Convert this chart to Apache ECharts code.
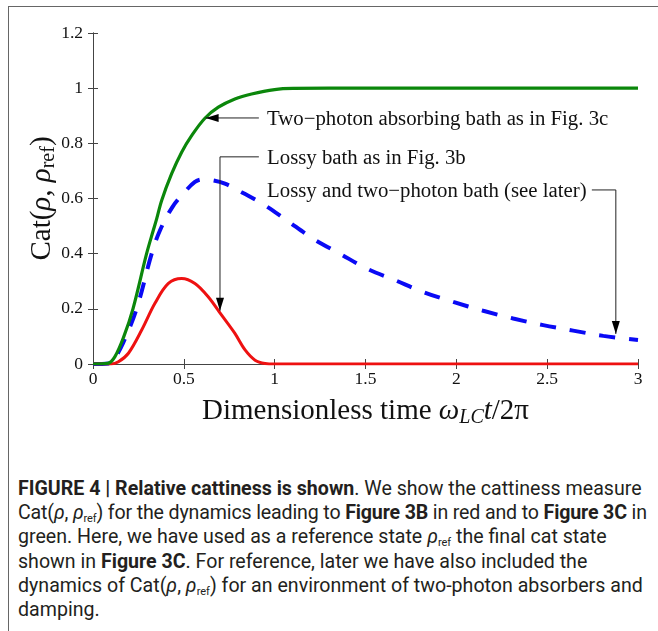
<!DOCTYPE html>
<html>
<head>
<meta charset="utf-8">
<script src="https://cdn.jsdelivr.net/npm/echarts@6/dist/echarts.min.js"></script>
<style>
  html, body { margin: 0; padding: 0; background: #fff; }
  #wrap { position: relative; width: 658px; height: 631px; overflow: hidden; }
  #frame { position: absolute; left: 8px; top: 6px; width: 700px; height: 700px;
           border-left: 1.5px solid #666; border-top: 1.5px solid #666; }
  #chart { position: absolute; left: 0; top: 0; width: 658px; height: 460px; }
  #caption { position: absolute; left: 18px; top: 477px; width: 640px;
             font-family: Roboto, "Liberation Sans", sans-serif; font-size: 19.6px;
             line-height: 24.2px; color: #231f20; white-space: nowrap; }
  #caption div { height: 24.2px; }
  #caption b { font-weight: bold; }
  #caption .s { font-size: 11px; vertical-align: -3px; line-height: 0; }
  #caption i { font-style: italic; }
  #caption .tight { letter-spacing: -0.15px; }
</style>
</head>
<body>
<div id="wrap">
  <div id="frame"></div>
  <div id="chart"></div>
  <div id="caption">
    <div><b>FIGURE 4 | Relative cattiness is shown</b>. We show the cattiness measure</div>
    <div class="tight">Cat(<i>ρ</i>, <i>ρ</i><span class="s">ref</span>) for the dynamics leading to <b>Figure 3B</b> in red and to <b>Figure 3C</b> in</div>
    <div>green. Here, we have used as a reference state <i>ρ</i><span class="s">ref</span> the final cat state</div>
    <div>shown in <b>Figure 3C</b>. For reference, later we have also included the</div>
    <div>dynamics of Cat(<i>ρ</i>, <i>ρ</i><span class="s">ref</span>) for an environment of two-photon absorbers and</div>
    <div>damping.</div>
  </div>
</div>
<script>
// Two-photon absorbing bath (green)
const tGreen = [0, 0.08, 0.12, 0.17, 0.22, 0.295, 0.332, 0.35, 0.378, 0.433, 0.488, 0.543, 0.616, 0.69, 0.781, 0.873, 1.0, 1.1, 1.5, 2.0, 2.5, 3.0];
const cGreen = [0, 0.002, 0.026, 0.1, 0.2, 0.4, 0.485, 0.525, 0.593, 0.69, 0.768, 0.828, 0.891, 0.931, 0.961, 0.979, 0.995, 0.999, 1, 1, 1, 1];

// Lossy bath (red)
const tRed = [0, 0.1, 0.14, 0.195, 0.268, 0.341, 0.415, 0.488, 0.561, 0.635, 0.708, 0.781, 0.837, 0.892, 0.947, 1.0, 3.0];
const cRed = [0, 0, 0.008, 0.039, 0.123, 0.22, 0.292, 0.31, 0.292, 0.243, 0.177, 0.111, 0.051, 0.014, 0.002, 0, 0];

// Lossy and two-photon bath (blue, dashed)
const tBlue = [0, 0.1, 0.12, 0.165, 0.24, 0.323, 0.369, 0.437, 0.5, 0.561, 0.6, 0.65, 0.726, 0.818, 0.947, 1.066, 1.212, 1.359, 1.506, 1.662, 1.818, 1.983, 2.148, 2.313, 2.478, 2.643, 2.809, 3.0];
const cBlue = [0, 0.003, 0.02, 0.075, 0.2, 0.4, 0.485, 0.569, 0.62, 0.66, 0.669, 0.667, 0.654, 0.623, 0.575, 0.521, 0.454, 0.4, 0.346, 0.304, 0.261, 0.225, 0.193, 0.165, 0.141, 0.121, 0.102, 0.087];

// Axis ranges
const xRange = [0, 3], xStep = 0.5;
const yRange = [0, 1.2], yStep = 0.2;

// Annotation texts and their anchors (data coordinates)
const noteTexts = ['Two\u2212photon absorbing bath as in Fig. 3c', 'Lossy bath as in Fig. 3b', 'Lossy and two\u2212photon bath (see later)'];
const noteAt = [[0.958, 0.886], [0.958, 0.745], [0.958, 0.626]];
// Arrow paths: first point is the tail, last is the arrow tip
const arrowPaths = [
  [[0.913, 0.892], [0.62, 0.892]],
  [[0.913, 0.751], [0.699, 0.751], [0.699, 0.193]],
  [[2.746, 0.631], [2.878, 0.631], [2.878, 0.109]]
];

const zip = (a, b) => a.map((v, i) => [v, b[i]]);
const serif = '"Liberation Serif", "DejaVu Serif", serif';
const axisCol = '#444';

const chart = echarts.init(document.getElementById('chart'), null, { renderer: 'canvas' });

const baseX = {
  type: 'value', min: xRange[0], max: xRange[1], interval: xStep,
  axisLine: { show: true, lineStyle: { color: axisCol, width: 1 } },
  axisTick: { show: true, inside: true, length: 5, lineStyle: { color: axisCol } },
  splitLine: { show: false }
};
const baseY = {
  type: 'value', min: yRange[0], max: yRange[1], interval: yStep,
  axisLine: { show: true, lineStyle: { color: axisCol, width: 1 } },
  axisTick: { show: true, inside: true, length: 5, lineStyle: { color: axisCol } },
  splitLine: { show: false }
};

chart.setOption({
  animation: false,
  grid: { left: 93, right: 20, top: 33, bottom: 96, containLabel: false },
  xAxis: [
    Object.assign({}, baseX, {
      position: 'bottom',
      axisLabel: { color: '#111', fontFamily: serif, fontSize: 17.5, margin: 6 },
      name: '{n|Dimensionless time }{i|ω}{s|LC}{i|t}{n|/2π}',
      nameLocation: 'middle', nameGap: 30,
      nameTextStyle: {
        rich: {
          n: { fontFamily: serif, fontSize: 29, color: '#111' },
          i: { fontFamily: serif, fontSize: 29, fontStyle: 'italic', color: '#111' },
          s: { fontFamily: serif, fontSize: 20, fontStyle: 'italic', color: '#111', padding: [14, 0, 0, 0] }
        }
      }
    }),
    Object.assign({}, baseX, { position: 'top', axisLabel: { show: false } })
  ],
  yAxis: [
    Object.assign({}, baseY, {
      position: 'left',
      axisLabel: { color: '#111', fontFamily: serif, fontSize: 17.5, margin: 10 },
      name: '{n|Cat(}{i|ρ}{n|, }{i|ρ}{s|ref}{n|)}',
      nameLocation: 'middle', nameGap: 34, nameMoveOverlap: false,
      nameTextStyle: {
        rich: {
          n: { fontFamily: serif, fontSize: 29, color: '#111' },
          i: { fontFamily: serif, fontSize: 29, fontStyle: 'italic', color: '#111' },
          s: { fontFamily: serif, fontSize: 20, color: '#111', padding: [14, 0, 0, 0] }
        }
      }
    }),
    Object.assign({}, baseY, { position: 'right', axisLabel: { show: false } })
  ],
  series: [
    {
      type: 'line', name: 'Lossy and two-photon bath', data: zip(tBlue, cBlue),
      smooth: 0.35, showSymbol: false, symbol: 'none', z: 2,
      lineStyle: { color: '#0a0af5', width: 4, type: [16, 14], cap: 'butt' }
    },
    {
      type: 'line', name: 'Lossy bath', data: zip(tRed, cRed),
      smooth: 0.35, showSymbol: false, symbol: 'none', z: 3,
      lineStyle: { color: '#ee1111', width: 3 }
    },
    {
      type: 'line', name: 'Two-photon absorbing bath', data: zip(tGreen, cGreen),
      smooth: 0.35, showSymbol: false, symbol: 'none', z: 4,
      lineStyle: { color: '#0b870b', width: 3.2 }
    }
  ]
});

// Annotations placed through the axes' own coordinate conversion
function px(p) { return chart.convertToPixel({ gridIndex: 0 }, p); }
const graphics = [];
noteTexts.forEach((t, i) => {
  const p = px(noteAt[i]);
  graphics.push({
    type: 'text', x: p[0], y: p[1], z: 10,
    style: { text: t, font: '20.8px ' + serif, fill: '#111', verticalAlign: 'middle' }
  });
});
arrowPaths.forEach(path => {
  const pts = path.map(px);
  graphics.push({
    type: 'polyline', z: 10, shape: { points: pts },
    style: { stroke: '#222', lineWidth: 1, fill: null }
  });
  const tip = pts[pts.length - 1], prev = pts[pts.length - 2];
  const dx = tip[0] - prev[0], dy = tip[1] - prev[1];
  const len = Math.hypot(dx, dy), ux = dx / len, uy = dy / len;
  const hl = 13, hw = 4;
  const bx = tip[0] - ux * hl, by = tip[1] - uy * hl;
  graphics.push({
    type: 'polygon', z: 11,
    shape: { points: [tip, [bx - uy * hw, by + ux * hw], [bx + uy * hw, by - ux * hw]] },
    style: { fill: '#000' }
  });
});
chart.setOption({ graphic: graphics });
</script>
</body>
</html>
